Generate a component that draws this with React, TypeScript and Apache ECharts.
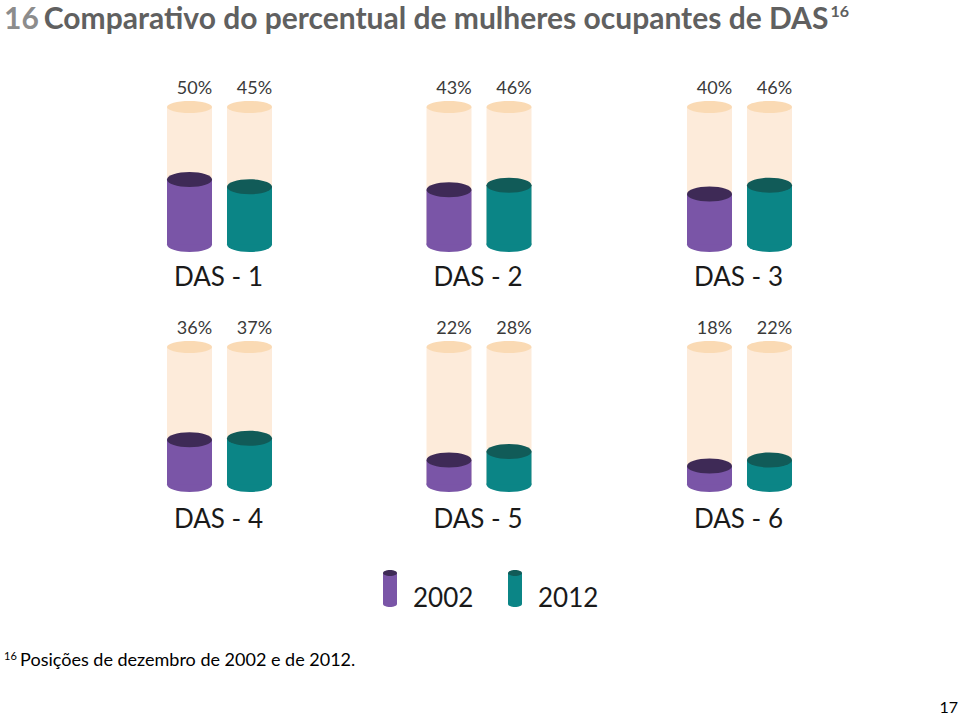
import React, { useEffect, useRef } from "react";
import * as echarts from "echarts";

const categories = ["DAS - 1", "DAS - 2", "DAS - 3", "DAS - 4", "DAS - 5", "DAS - 6"];
const years = ["2002", "2012"];
const values2002 = [50, 43, 40, 36, 22, 18];
const values2012 = [45, 46, 46, 37, 28, 22];

const FONT = "Lato, 'Open Sans', sans-serif";
const PEACH_BODY = "#FDEBDA";
const PEACH_TOP = "#FADAB4";
const BODY = ["#7A55A7", "#0B8586"];
const CAP = ["#3E2A56", "#115B58"];

const gridLefts = [159.5, 419, 679.5];
const gridTops = [107, 347];
const GRID_W = 120;
const GRID_H = 145;

export default function App() {
  const ref = useRef<HTMLDivElement>(null);
  useEffect(() => {
    if (!ref.current) return;
    const chart = echarts.init(ref.current, null, { renderer: "svg" });

    const renderItem = (params: any, api: any) => {
      const idx = api.value(0);
      const v = api.value(1);
      const top = api.coord([idx, v]);
      const full = api.coord([idx, 100]);
      const base = api.coord([idx, 0]);
      const w = 45;
      const cx = top[0];
      const x = cx - w / 2;
      const ryC = 7.5;
      const ryP = 6;
      const baseC = base[1] - ryC;
      return {
        type: "group",
        children: [
          { type: "rect", shape: { x, y: full[1], width: w, height: baseC - full[1] }, style: { fill: PEACH_BODY } },
          { type: "ellipse", shape: { cx, cy: full[1], rx: w / 2, ry: ryP }, style: { fill: PEACH_TOP } },
          { type: "ellipse", shape: { cx, cy: baseC, rx: w / 2, ry: ryC }, style: { fill: BODY[idx] } },
          { type: "rect", shape: { x, y: top[1], width: w, height: baseC - top[1] }, style: { fill: BODY[idx] } },
          { type: "ellipse", shape: { cx, cy: top[1], rx: w / 2, ry: ryC }, style: { fill: CAP[idx] } },
          {
            type: "text",
            x: cx + 5,
            y: full[1] - 20,
            style: {
              text: `${v}%`,
              fill: "#3a3a3a",
              font: `18px ${FONT}`,
              textAlign: "center",
              textVerticalAlign: "middle",
            },
          },
        ],
      };
    };

    const grids: any[] = [];
    const xAxes: any[] = [];
    const yAxes: any[] = [];
    const series: any[] = [];
    const labels: any[] = [];
    categories.forEach((cat, i) => {
      const col = i % 3;
      const row = Math.floor(i / 3);
      grids.push({ left: gridLefts[col], top: gridTops[row], width: GRID_W, height: GRID_H });
      xAxes.push({ type: "category", data: years, gridIndex: i, show: false });
      yAxes.push({ type: "value", min: 0, max: 100, gridIndex: i, show: false });
      series.push({
        type: "custom",
        name: cat,
        xAxisIndex: i,
        yAxisIndex: i,
        renderItem,
        data: [
          [0, values2002[i]],
          [1, values2012[i]],
        ],
      });
      labels.push({
        type: "text",
        x: gridLefts[col] + GRID_W / 2 - 1,
        y: row === 0 ? 276 : 518,
        style: {
          text: cat,
          fill: "#1a1a1a",
          font: `26px ${FONT}`,
          textAlign: "center",
          textVerticalAlign: "middle",
        },
      });
    });

    const legendItem = (x: number, idx: number, label: string, tx: number) => [
      { type: "rect", shape: { x, y: 573, width: 14, height: 31 }, style: { fill: BODY[idx] } },
      { type: "ellipse", shape: { cx: x + 7, cy: 604, rx: 7, ry: 3 }, style: { fill: BODY[idx] } },
      { type: "ellipse", shape: { cx: x + 7, cy: 573, rx: 7, ry: 3 }, style: { fill: CAP[idx] } },
      {
        type: "text",
        x: tx,
        y: 597,
        style: { text: label, fill: "#1a1a1a", font: `26px ${FONT}`, textAlign: "left", textVerticalAlign: "middle" },
      },
    ];

    chart.setOption({
      animation: false,
      backgroundColor: "#ffffff",
      title: {
        left: 4,
        top: 2,
        padding: 0,
        text: "{n|16} {t|Comparativo do percentual de mulheres ocupantes de DAS}{s|16}",
        textStyle: {
          lineHeight: 30,
          rich: {
            n: { fontFamily: FONT, fontWeight: "bold", fontSize: 30, color: "#8C8C8C", lineHeight: 30 },
            t: { fontFamily: FONT, fontWeight: "bold", fontSize: 30, color: "#606060", lineHeight: 30 },
            s: { fontFamily: FONT, fontWeight: "bold", fontSize: 16, color: "#606060", verticalAlign: "top", padding: [0, 0, 0, 2] },
          },
        },
      },
      grid: grids,
      xAxis: xAxes,
      yAxis: yAxes,
      series,
      graphic: [
        ...labels,
        ...legendItem(383, 0, years[0], 413),
        ...legendItem(508, 1, years[1], 538),
        {
          type: "text",
          x: 4,
          y: 659,
          style: {
            text: "{s|16} {t|Posições de dezembro de 2002 e de 2012.}",
            rich: {
              s: { fontFamily: FONT, fontSize: 11, fill: "#000", verticalAlign: "top" },
              t: { fontFamily: FONT, fontSize: 18, fill: "#000" },
            },
            textVerticalAlign: "middle",
          },
        },
        {
          type: "text",
          x: 958,
          y: 706,
          style: { text: "17", fill: "#000", font: `16px ${FONT}`, textAlign: "right", textVerticalAlign: "middle" },
        },
      ],
    });
    return () => chart.dispose();
  }, []);
  return <div ref={ref} style={{ width: 960, height: 717, position: "absolute", left: 0, top: 0 }} />;
}
